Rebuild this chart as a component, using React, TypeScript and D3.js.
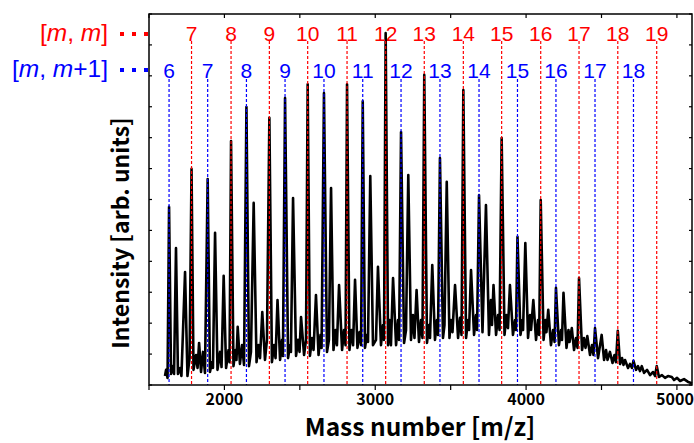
import React from 'react'
import * as d3 from 'd3'

// mass spectrum, [m/z, intensity]
const spectrum: [number, number][] = [
  [1606, 0.29], [1613, 0.49], [1623, 0.23], [1633, 5.76], [1646, 0.36], [1659, 0.61], [1666, 0.36], [1679, 4.43],
  [1692, 0.36], [1706, 0.55], [1715, 0.29], [1739, 3.65], [1755, 0.29], [1769, 0.87], [1782, 6.99], [1795, 0.49],
  [1812, 0.97], [1822, 0.55], [1832, 1.36], [1845, 0.42], [1858, 1.07], [1871, 0.39], [1889, 6.66], [1904, 0.42],
  [1918, 0.74], [1924, 0.55], [1938, 4.92], [1954, 0.49], [1971, 1.07], [1981, 0.58], [1995, 3.53], [2011, 0.55],
  [2027, 1.13], [2034, 0.74], [2044, 7.89], [2060, 0.61], [2074, 1.13], [2080, 0.81], [2088, 1.88], [2103, 0.68],
  [2117, 1.29], [2130, 0.65], [2146, 8.99], [2163, 0.61], [2176, 1.07], [2194, 5.89], [2213, 0.74], [2226, 1.29],
  [2236, 0.87], [2251, 2.36], [2269, 0.81], [2282, 1.46], [2298, 8.64], [2315, 0.74], [2329, 1.29], [2339, 0.87],
  [2352, 2.75], [2369, 0.81], [2382, 1.46], [2388, 0.94], [2402, 9.28], [2422, 0.87], [2435, 1.29], [2441, 1.07],
  [2455, 6.05], [2475, 0.94], [2488, 1.46], [2498, 1.07], [2508, 2.2], [2528, 0.97], [2541, 1.46], [2552, 9.73],
  [2567, 0.94], [2581, 1.52], [2591, 1.13], [2607, 2.91], [2624, 0.97], [2637, 1.62], [2644, 1.2], [2660, 9.44],
  [2680, 1.07], [2693, 1.46], [2707, 6.37], [2723, 1.13], [2737, 1.78], [2746, 1.29], [2760, 3.23], [2780, 1.13],
  [2793, 1.78], [2803, 1.29], [2813, 9.73], [2829, 1.13], [2843, 1.78], [2853, 1.29], [2866, 3.4], [2882, 1.2],
  [2896, 1.71], [2906, 1.29], [2917, 9.18], [2932, 1.2], [2945, 1.62], [2952, 1.39], [2967, 6.76], [2985, 1.29],
  [3005, 1.46], [3018, 3.82], [3038, 1.29], [3051, 1.94], [3058, 1.46], [3069, 11.38], [3085, 1.29], [3095, 2.1],
  [3104, 1.29], [3118, 3.46], [3138, 1.29], [3151, 2.1], [3158, 1.46], [3171, 8.18], [3191, 1.36], [3204, 1.78],
  [3219, 6.79], [3237, 1.46], [3250, 2.26], [3260, 1.52], [3274, 3.07], [3290, 1.39], [3303, 2.1], [3313, 1.52],
  [3325, 10.03], [3343, 1.36], [3356, 1.94], [3363, 1.52], [3378, 3.88], [3396, 1.46], [3409, 2.1], [3416, 1.62],
  [3429, 7.34], [3449, 1.52], [3459, 1.94], [3474, 6.57], [3492, 1.52], [3502, 2.1], [3512, 1.71], [3529, 3.23],
  [3549, 1.52], [3562, 2.17], [3572, 1.62], [3584, 9.54], [3602, 1.52], [3615, 2.1], [3622, 1.78], [3635, 3.72],
  [3655, 1.62], [3668, 2.26], [3675, 1.78], [3688, 6.14], [3711, 1.71], [3734, 5.82], [3754, 1.62], [3767, 2.75],
  [3774, 1.94], [3784, 3.23], [3801, 1.62], [3814, 2.26], [3824, 1.78], [3838, 7.99], [3857, 1.62], [3870, 2.26],
  [3880, 1.84], [3893, 3.23], [3913, 1.62], [3927, 2.1], [3933, 1.78], [3943, 4.79], [3963, 1.62], [3976, 2.1],
  [3980, 1.78], [3995, 4.59], [4013, 1.52], [4026, 2.26], [4033, 1.78], [4048, 2.75], [4066, 1.46], [4079, 2.1],
  [4087, 1.62], [4097, 5.98], [4116, 1.46], [4129, 2.1], [4135, 1.71], [4147, 2.43], [4165, 1.29], [4179, 1.78],
  [4189, 1.39], [4198, 3.14], [4218, 1.29], [4232, 1.78], [4238, 1.46], [4248, 2.98], [4268, 1.2], [4281, 1.78],
  [4288, 1.39], [4303, 1.84], [4318, 1.13], [4331, 1.52], [4341, 1.2], [4351, 3.46], [4371, 1.13], [4384, 1.52],
  [4394, 1.2], [4406, 1.58], [4424, 0.97], [4437, 1.29], [4447, 0.97], [4457, 1.84], [4477, 0.87], [4501, 1.62],
  [4517, 0.81], [4530, 1.13], [4540, 0.81], [4556, 1.07], [4573, 0.71], [4586, 0.97], [4596, 0.74], [4608, 1.75],
  [4623, 0.68], [4636, 0.87], [4646, 0.65], [4656, 0.81], [4676, 0.55], [4689, 0.68], [4702, 0.55], [4712, 0.78],
  [4729, 0.49], [4742, 0.61], [4755, 0.45], [4767, 0.61], [4782, 0.39], [4802, 0.49], [4822, 0.32], [4842, 0.42],
  [4855, 0.29], [4866, 0.61], [4881, 0.26], [4901, 0.32], [4921, 0.23], [4941, 0.29], [4966, 0.26], [4981, 0.16],
  [5001, 0.23], [5021, 0.13], [5047, 0.19], [5074, 0.1], [5100, 0.06],
]

// [m, m] markers (red)
const mmLabels = [7, 8, 9, 10, 11, 12, 13, 14, 15, 16, 17, 18, 19]
const mmMass = [1782, 2044, 2298, 2552, 2813, 3069, 3325, 3584, 3838, 4097, 4351, 4608, 4866]
// [m, m+1] markers (blue)
const mm1Labels = [6, 7, 8, 9, 10, 11, 12, 13, 14, 15, 16, 17, 18]
const mm1Mass = [1633, 1889, 2146, 2402, 2660, 2917, 3171, 3429, 3688, 3943, 4198, 4457, 4712]

const xTickLabels = [2000, 3000, 4000, 5000]

const W = 694, H = 443
const LEFT = 149, RIGHT = 692, TOP = 14, BOTTOM = 385
const RED = '#ff0000', BLUE = '#0000ff'
const gothic = '"Noto Sans CJK JP", "Noto Sans", sans-serif'
const arial = '"Liberation Sans", Arial, sans-serif'

export default function App() {
  const x = d3.scaleLinear().domain([1500, 5100]).range([LEFT, RIGHT])
  const y = d3.scaleLinear().domain([0, 12]).range([BOTTOM, TOP])
  const line = d3.line<[number, number]>().x(d => x(d[0])).y(d => y(d[1]))
  const xMinor = d3.range(1500, 5101, 500)
  const yMinor = y.ticks(12)

  return (
    <svg width={W} height={H} style={{ position: 'absolute', left: 0, top: 0, background: '#fff' }}>
      {/* spectrum */}
      <path d={line(spectrum) || ''} fill="none" stroke="#000" strokeWidth={2.6} strokeLinejoin="round" />

      {/* marker lines */}
      {mmMass.map((m, i) => (
        <g key={'r' + i}>
          <line x1={x(m)} x2={x(m)} y1={41} y2={BOTTOM} stroke={RED} strokeWidth={1.2} strokeDasharray="3 2" />
          <text x={x(m)} y={41} textAnchor="middle" fill={RED} fontFamily={arial} fontSize={21}>{mmLabels[i]}</text>
        </g>
      ))}
      {mm1Mass.map((m, i) => (
        <g key={'b' + i}>
          <line x1={x(m)} x2={x(m)} y1={79} y2={BOTTOM} stroke={BLUE} strokeWidth={1.2} strokeDasharray="3 2" />
          <text x={x(m)} y={78} textAnchor="middle" fill={BLUE} fontFamily={arial} fontSize={21}>{mm1Labels[i]}</text>
        </g>
      ))}

      {/* frame */}
      <rect x={LEFT} y={TOP} width={RIGHT - LEFT} height={BOTTOM - TOP} fill="none" stroke="#000" strokeWidth={1.5} />
      {xMinor.map(v => (
        <g key={'xt' + v}>
          <line x1={x(v)} x2={x(v)} y1={BOTTOM} y2={BOTTOM + 5} stroke="#000" strokeWidth={1.2} />
          <line x1={x(v)} x2={x(v)} y1={TOP} y2={TOP + 4} stroke="#000" strokeWidth={1.2} />
        </g>
      ))}
      {yMinor.map(v => (
        <g key={'yt' + v}>
          <line x1={LEFT} x2={LEFT + 3} y1={y(v)} y2={y(v)} stroke="#000" strokeWidth={1.2} />
          <line x1={RIGHT - 3} x2={RIGHT} y1={y(v)} y2={y(v)} stroke="#000" strokeWidth={1.2} />
        </g>
      ))}
      {xTickLabels.map(v => (
        <text key={'xl' + v} x={Math.min(x(v), 675)} y={405} textAnchor="middle" fontFamily={gothic} fontWeight={700} fontSize={16}>{v}</text>
      ))}

      {/* axis titles */}
      <text x={420} y={436} textAnchor="middle" fontFamily={gothic} fontWeight={700} fontSize={24.5}>Mass number [m/z]</text>
      <text transform="translate(129,233) rotate(-90)" textAnchor="middle" fontFamily={gothic} fontWeight={700} fontSize={23}>Intensity [arb. units]</text>

      {/* legend */}
      <text x={108} y={41} textAnchor="end" fill={RED} fontFamily={arial} fontSize={24.5}>
        [<tspan fontStyle="italic">m</tspan>, <tspan fontStyle="italic">m</tspan>]
      </text>
      <line x1={120} x2={150} y1={34} y2={34} stroke={RED} strokeWidth={4} strokeDasharray="4 8" />
      <text x={108} y={77} textAnchor="end" fill={BLUE} fontFamily={arial} fontSize={24.5}>
        [<tspan fontStyle="italic">m</tspan>, <tspan fontStyle="italic">m</tspan>+1]
      </text>
      <line x1={120} x2={150} y1={70} y2={70} stroke={BLUE} strokeWidth={4} strokeDasharray="4 8" />
    </svg>
  )
}
